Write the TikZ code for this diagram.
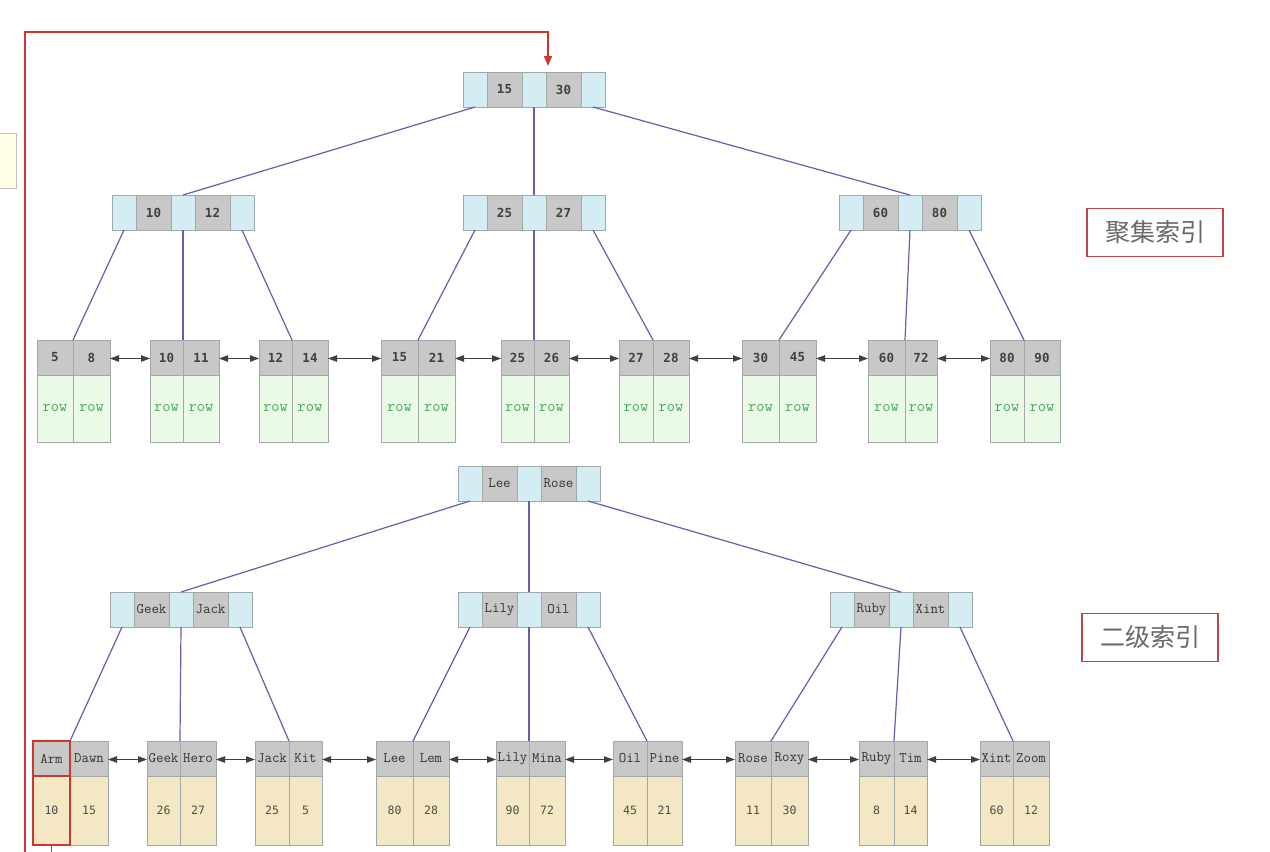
\documentclass[tikz,border=0pt]{standalone}
\usepackage{fontspec}
\usetikzlibrary{arrows.meta}
\newfontfamily\cjkf{Noto Sans CJK SC}
\newfontfamily\dmono{DejaVu Sans Mono}
\definecolor{cellborder}{RGB}{160,168,168}
\definecolor{ptrblue}{RGB}{212,236,243}
\definecolor{keygray}{RGB}{200,200,200}
\definecolor{rowgreen}{RGB}{234,250,230}
\definecolor{rowtext}{RGB}{70,170,90}
\definecolor{beige}{RGB}{243,232,195}
\definecolor{linkblue}{RGB}{100,95,175}
\definecolor{redc}{RGB}{205,55,45}
\definecolor{labred}{RGB}{190,70,70}
\definecolor{labtext}{RGB}{105,105,105}
\definecolor{notefill}{RGB}{255,255,232}
\newcommand\mkinner[6]{%
  \node[pcell,anchor=north west] (#1-p1) at (#2,#3) {};
  \node[kcell,#6,anchor=north west] (#1-k1) at (#1-p1.north east) {#4};
  \node[pcell,anchor=north west] (#1-p2) at (#1-k1.north east) {};
  \node[kcell,#6,anchor=north west] (#1-k2) at (#1-p2.north east) {#5};
  \node[pcell,anchor=north west] (#1-p3) at (#1-k2.north east) {};}
\newcommand\mkleaf[9]{%
  \pgfmathsetmacro\wa{#3-#2}\pgfmathsetmacro\wb{#4-#3}%
  \node[lkey,minimum width=\wa pt,anchor=north west] (#1-k1) at (#2,#5) {#6};
  \node[lkey,minimum width=\wb pt,anchor=north west] (#1-k2) at (#3,#5) {#7};
  \node[lval,minimum width=\wa pt,anchor=north west] (#1-v1) at (#1-k1.south west) {#8};
  \node[lval,minimum width=\wb pt,anchor=north west] (#1-v2) at (#1-k2.south west) {#9};}
\begin{document}
\begin{tikzpicture}[x=1pt,y=-1pt,
  cellbase/.style={draw=cellborder,line width=0.9pt,inner sep=0pt,outer sep=0pt,minimum height=35pt},
  pcell/.style={cellbase,fill=ptrblue,minimum width=24pt},
  kcell/.style={cellbase,fill=keygray,minimum width=35pt},
  numk/.style={font=\dmono\bfseries\fontsize{12.5}{14}\selectfont,text=black!75},
  namek/.style={font=\ttfamily\fontsize{14.5}{16}\selectfont,text=black!80},
  lkey/.style={cellbase,fill=keygray,numk},
  lval/.style={cellbase,fill=rowgreen,minimum height=67pt,font=\ttfamily\fontsize{16}{18}\selectfont,text=rowtext},
  link/.style={draw=linkblue,line width=1.2pt},
  larrow/.style={draw=black!75,line width=0.9pt,{Triangle[length=9pt,width=6.5pt]}-{Triangle[length=9pt,width=6.5pt]}},
  redline/.style={draw=redc,line width=1.4pt},
  cnlabel/.style={draw=labred,line width=1.5pt,minimum width=136pt,minimum height=48pt,inner sep=0pt,font=\cjkf\fontsize{25}{28}\selectfont,text=labtext}
  ]
\fill[white] (0,0) rectangle (1270,852);
\useasboundingbox (0,0) rectangle (1270,852);
% note at left edge
\draw[draw=black!25,fill=notefill,line width=0.8pt] (-3,133) rectangle (16,188);
% ---------- clustered index ----------
\mkinner{ct}{463}{72}{15}{30}{numk}
\mkinner{ca}{112}{195}{10}{12}{numk}
\mkinner{cb}{463}{195}{25}{27}{numk}
\mkinner{cc}{839}{195}{60}{80}{numk}
\mkleaf{c1}{37}{73}{110}{340}{5}{8}{row}{row}
\mkleaf{c2}{150}{183}{219}{340}{10}{11}{row}{row}
\mkleaf{c3}{259}{292}{328}{340}{12}{14}{row}{row}
\mkleaf{c4}{381}{418}{455}{340}{15}{21}{row}{row}
\mkleaf{c5}{501}{534}{569}{340}{25}{26}{row}{row}
\mkleaf{c6}{619}{653}{689}{340}{27}{28}{row}{row}
\mkleaf{c7}{742}{779}{816}{340}{30}{45}{row}{row}
\mkleaf{c8}{868}{905}{937}{340}{60}{72}{row}{row}
\mkleaf{c9}{990}{1024}{1060}{340}{80}{90}{row}{row}
\draw[link] (ct-p1.south) -- (ca-p2.north);
\draw[link] (ct-p2.south) -- (cb-p2.north);
\draw[link] (ct-p3.south) -- (cc-p2.north);
\draw[link] (ca-p1.south) -- (c1-k1.north east);
\draw[link] (ca-p2.south) -- (c2-k1.north east);
\draw[link] (ca-p3.south) -- (c3-k1.north east);
\draw[link] (cb-p1.south) -- (c4-k1.north east);
\draw[link] (cb-p2.south) -- (c5-k1.north east);
\draw[link] (cb-p3.south) -- (c6-k1.north east);
\draw[link] (cc-p1.south) -- (c7-k1.north east);
\draw[link] (cc-p2.south) -- (c8-k1.north east);
\draw[link] (cc-p3.south) -- (c9-k1.north east);
\foreach \a/\b in {c1/c2,c2/c3,c3/c4,c4/c5,c5/c6,c6/c7,c7/c8,c8/c9}
  \draw[larrow] ([yshift=-1pt]\a-k2.east) -- ([yshift=-1pt]\b-k1.west);
% ---------- secondary index ----------
\mkinner{st}{458}{466}{Lee}{Rose}{namek}
\mkinner{sa}{110}{592}{Geek}{Jack}{namek}
\mkinner{sb}{458}{592}{Lily}{Oil}{namek}
\mkinner{sc}{830}{592}{Ruby}{Xint}{namek}
\tikzset{lkey/.style={cellbase,fill=keygray,namek},
  lval/.style={cellbase,fill=beige,minimum height=69pt,font=\dmono\fontsize{11.5}{13}\selectfont,text=black!70}}
\mkleaf{s1}{33}{70}{108}{741}{Arm}{Dawn}{10}{15}
\mkleaf{s2}{147}{180}{216}{741}{Geek}{Hero}{26}{27}
\mkleaf{s3}{255}{289}{322}{741}{Jack}{Kit}{25}{5}
\mkleaf{s4}{376}{413}{449}{741}{Lee}{Lem}{80}{28}
\mkleaf{s5}{496}{529}{565}{741}{Lily}{Mina}{90}{72}
\mkleaf{s6}{613}{647}{682}{741}{Oil}{Pine}{45}{21}
\mkleaf{s7}{735}{771}{808}{741}{Rose}{Roxy}{11}{30}
\mkleaf{s8}{859}{894}{927}{741}{Ruby}{Tim}{8}{14}
\mkleaf{s9}{980}{1013}{1049}{741}{Xint}{Zoom}{60}{12}
\draw[link] (st-p1.south) -- (sa-p2.north);
\draw[link] (st-p2.south) -- (sb-p2.north);
\draw[link] (st-p3.south) -- (sc-p2.north);
\draw[link] (sa-p1.south) -- (s1-k1.north east);
\draw[link] (sa-p2.south) -- (s2-k1.north east);
\draw[link] (sa-p3.south) -- (s3-k1.north east);
\draw[link] (sb-p1.south) -- (s4-k1.north east);
\draw[link] (sb-p2.south) -- (s5-k1.north east);
\draw[link] (sb-p3.south) -- (s6-k1.north east);
\draw[link] (sc-p1.south) -- (s7-k1.north east);
\draw[link] (sc-p2.south) -- (s8-k1.north east);
\draw[link] (sc-p3.south) -- (s9-k1.north east);
\foreach \a/\b in {s1/s2,s2/s3,s3/s4,s4/s5,s5/s6,s6/s7,s7/s8,s8/s9}
  \draw[larrow] ([yshift=-1pt]\a-k2.east) -- ([yshift=-1pt]\b-k1.west);
% ---------- red highlight and back path ----------
\draw[redline,line width=1.7pt] (s1-k1.north west) rectangle (s1-k1.south east);
\draw[redline,line width=1.7pt] (s1-v1.north west) rectangle (s1-v1.south east);
\coordinate (rb) at (25,853);
\coordinate (rt) at (25,32);
\coordinate (rb2) at (52,853);
\draw[redline] (s1-v1.south) -- (s1-v1.south |- rb2);
\draw[redline,-{Triangle[length=10pt,width=8pt]},shorten >=6pt] (rb) -- (rt) -| ([xshift=2pt]ct-k2.north west);
% ---------- labels ----------
\node[cnlabel] (lab1) at (1155,232.5) {聚集索引};
\node[cnlabel] (lab2) at (1150,637.5) {二级索引};
\end{tikzpicture}
\end{document}
